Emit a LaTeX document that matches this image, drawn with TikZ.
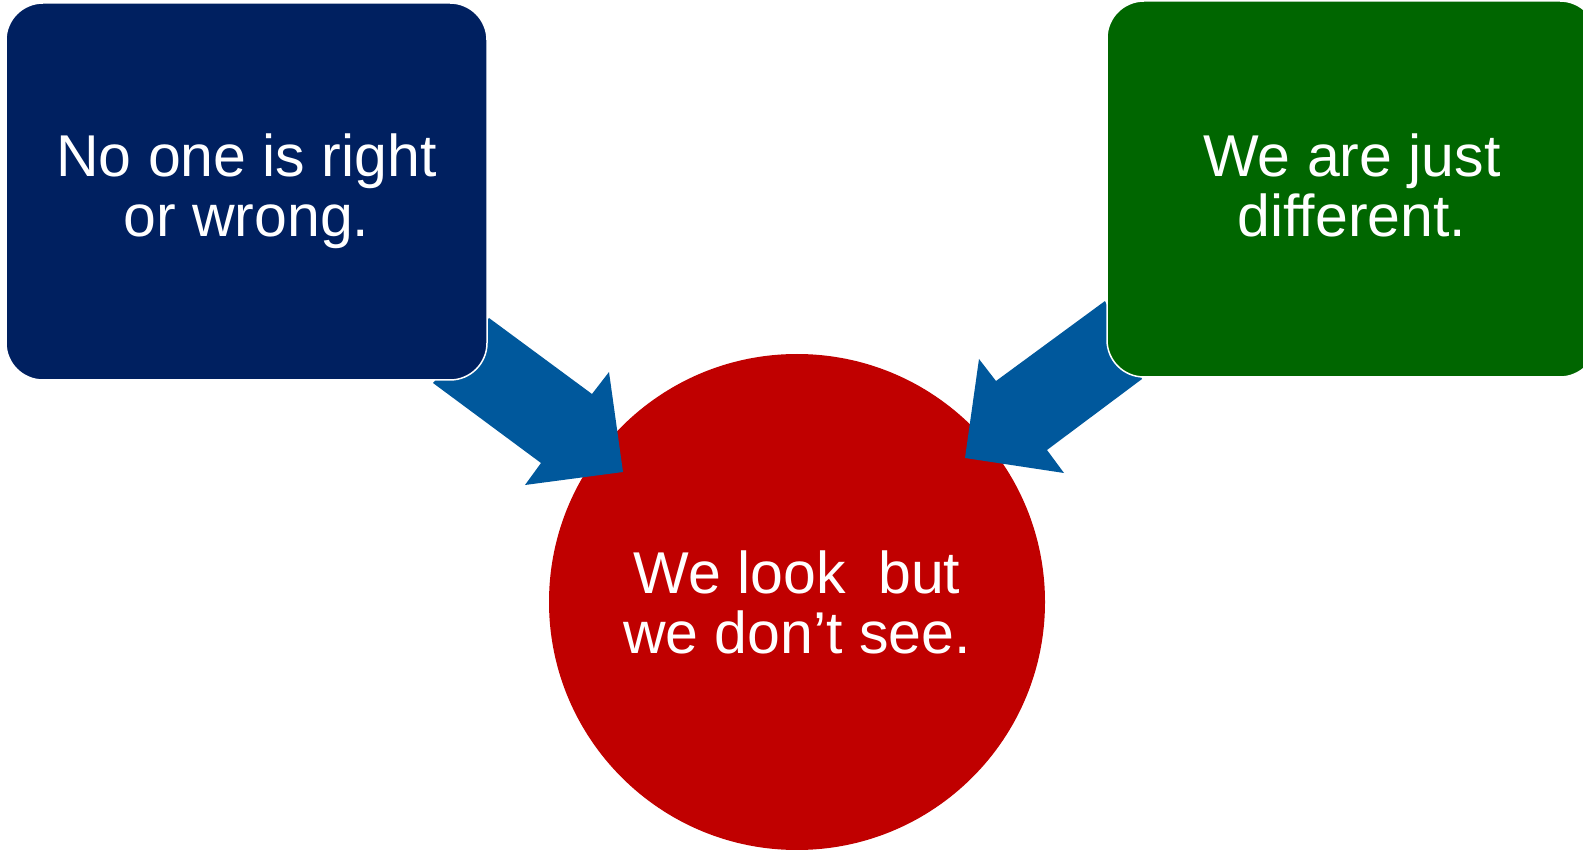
\documentclass[tikz,border=0pt]{standalone}
\usepackage{fontspec}
\setmainfont[Ligatures={NoCommon}]{Liberation Sans}
\definecolor{navybox}{RGB}{0,32,96}
\definecolor{greenbox}{RGB}{0,102,0}
\definecolor{redcirc}{RGB}{192,0,0}
\definecolor{arrowblue}{RGB}{0,88,156}
\begin{document}
\begin{tikzpicture}[x=1pt,y=-1pt,
  bigtext/.style={text=white,align=center,font=\fontsize{59}{60}\selectfont},
  roundbox/.style={bigtext,rounded corners=37pt,draw=white,line width=1.5pt,inner sep=0pt},
  blockarrow/.style={fill=arrowblue,draw=none}]
\useasboundingbox (0,0) rectangle (1583,850);
\node[bigtext,circle,fill=redcirc,minimum size=496pt,inner sep=0pt] (c) at (797,602) {We look\ \ but\\we don’t see.};
% left block arrow
\coordinate (la1) at (489,318);
\coordinate (la2) at (592,394);
\coordinate (la3) at (609,372);
\coordinate (la4) at (623,472);
\coordinate (la5) at (525,485);
\coordinate (la6) at (541,463);
\coordinate (la7) at (433,383);
\fill[blockarrow] (la1) -- (la2) -- (la3) -- (la4) -- (la5) -- (la6) -- (la7) -- cycle;
% right block arrow
\coordinate (ra1) at (1105,301);
\coordinate (ra2) at (996,381);
\coordinate (ra3) at (979,359);
\coordinate (ra4) at (965,458);
\coordinate (ra5) at (1064,473);
\coordinate (ra6) at (1047,450);
\coordinate (ra7) at (1142,379);
\fill[blockarrow] (ra1) -- (ra2) -- (ra3) -- (ra4) -- (ra5) -- (ra6) -- (ra7) -- cycle;
\node[roundbox,fill=navybox,minimum width=481pt,minimum height=377pt] (l) at (246.5,191.5) {No one is right\\or wrong.};
\node[roundbox,fill=greenbox,minimum width=490pt,minimum height=376pt] (r) at (1352,189) {};
\node[bigtext] (rt) at ([yshift=4pt]r.center) {We are just\\different.};
\end{tikzpicture}
\end{document}
